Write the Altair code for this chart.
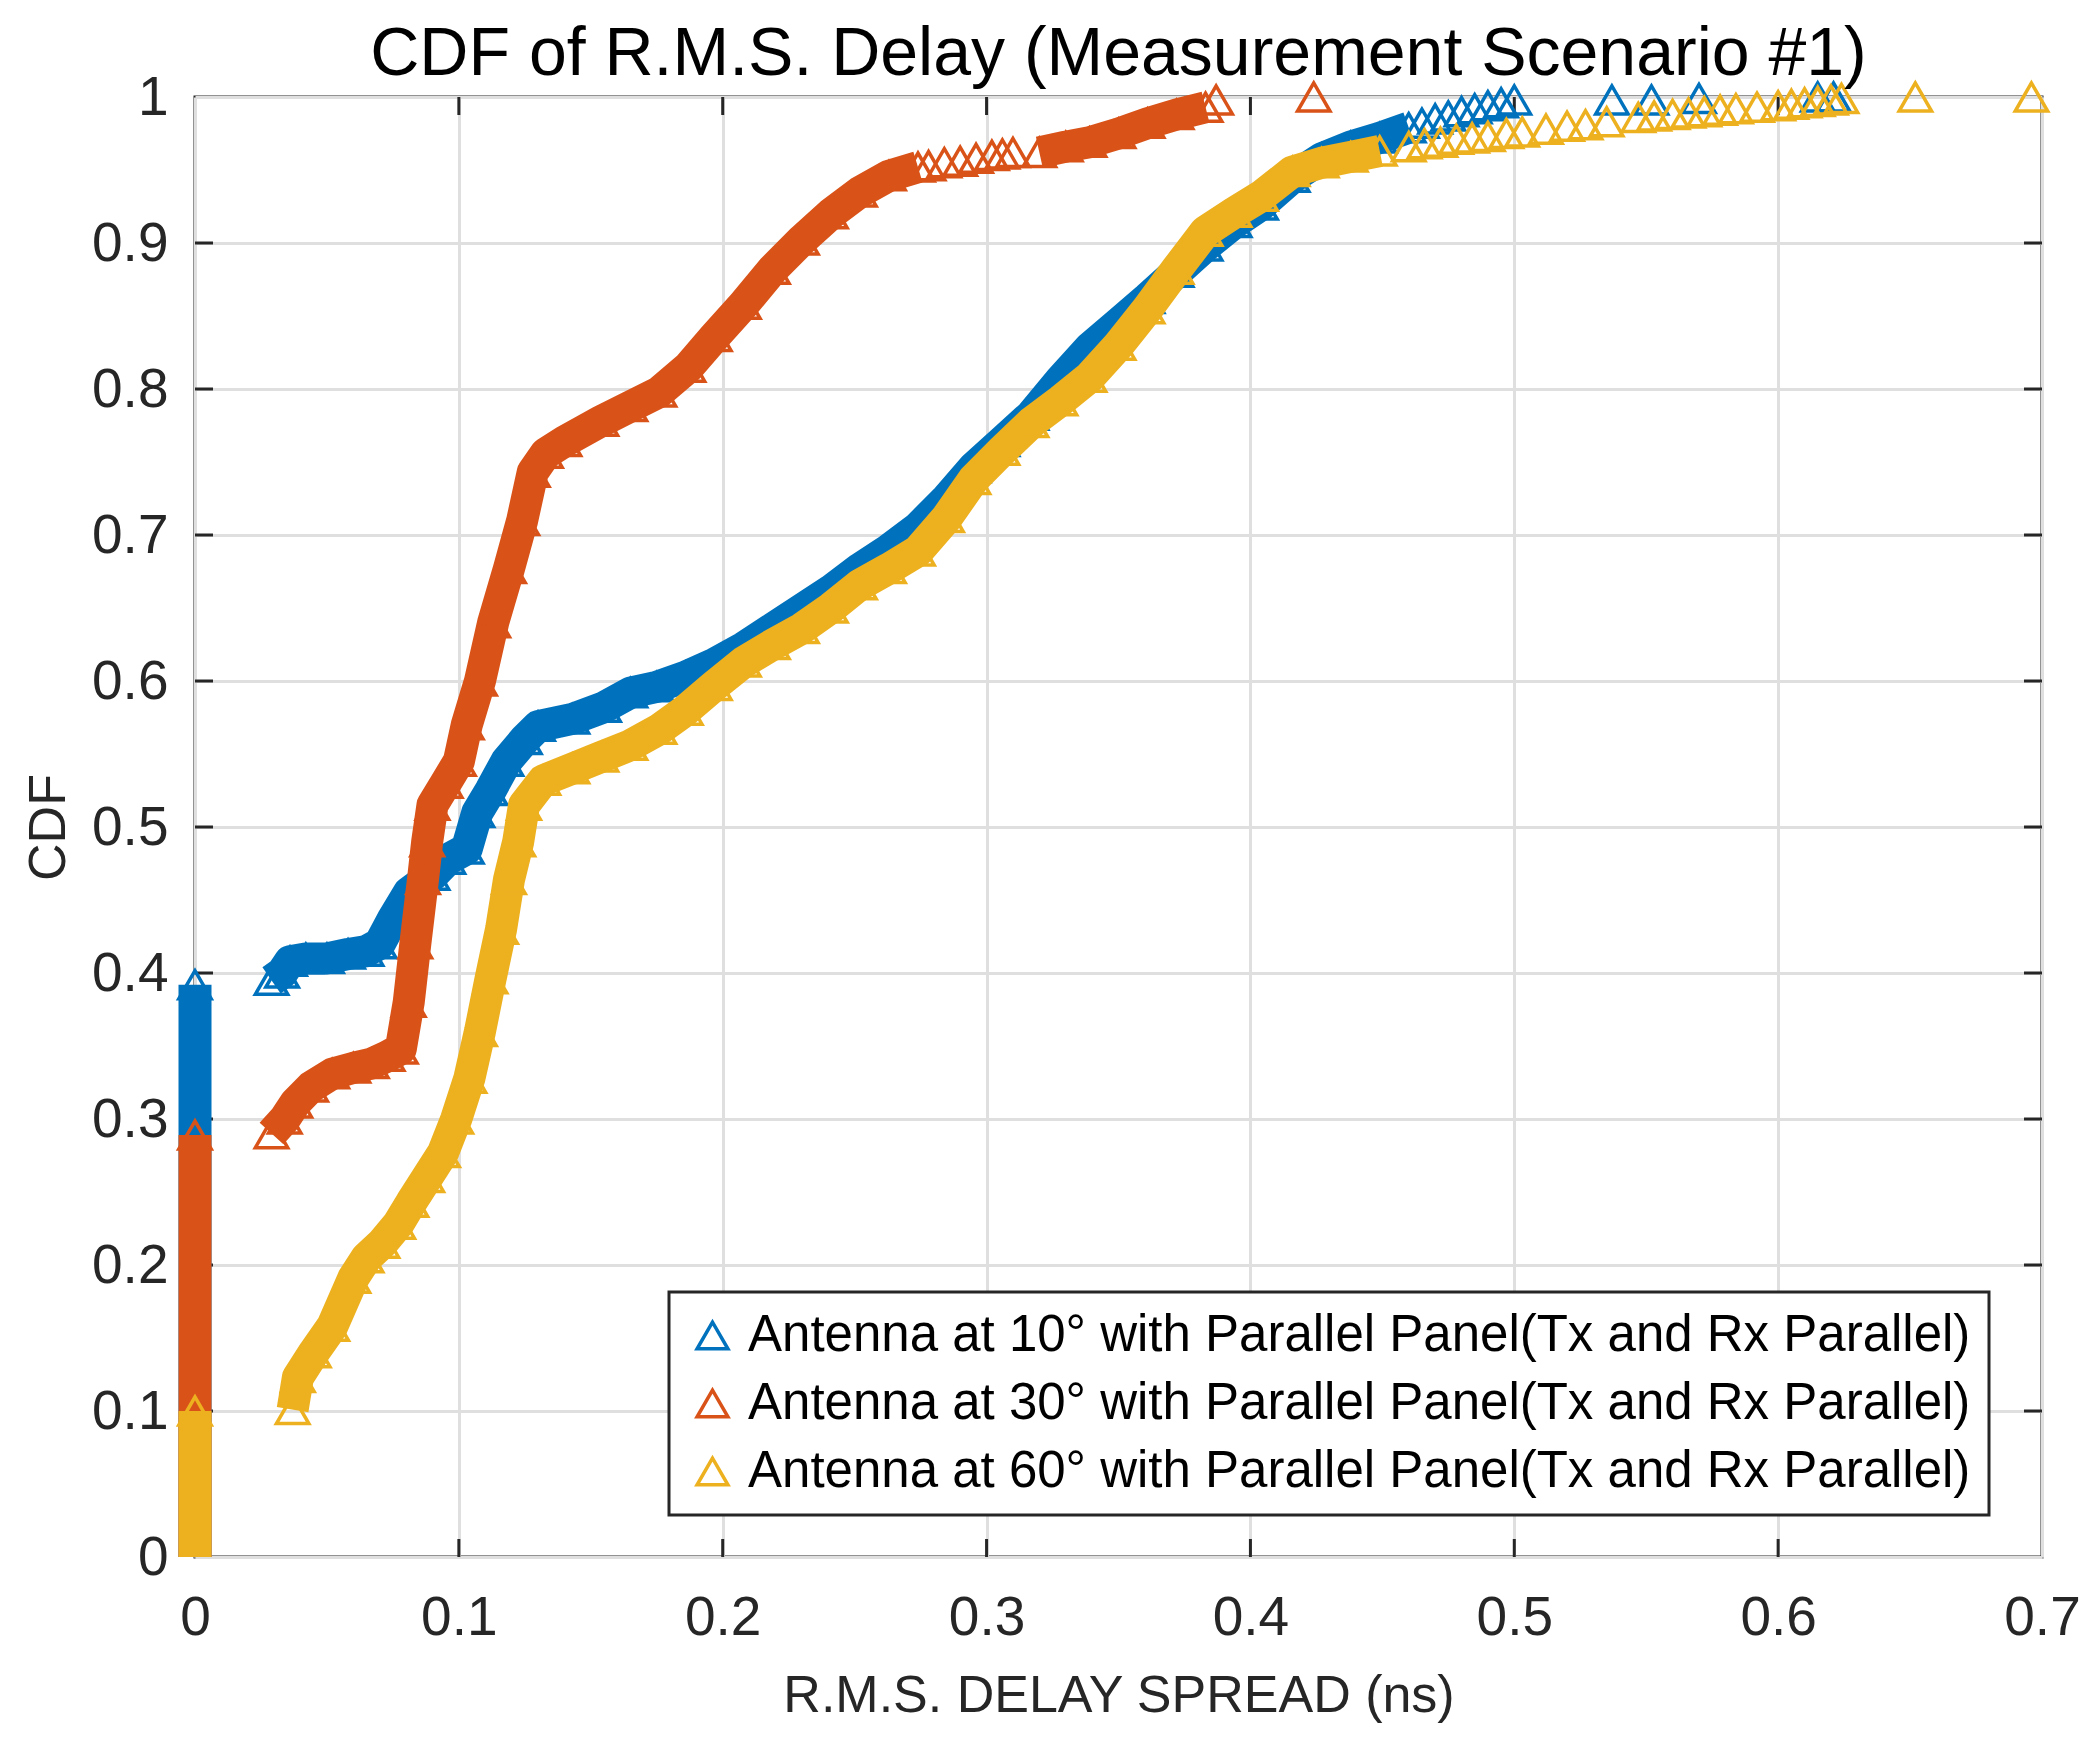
import altair as alt
import pandas as pd

SERIES = [
    "Antenna at 10° with Parallel Panel(Tx and Rx Parallel)",
    "Antenna at 30° with Parallel Panel(Tx and Rx Parallel)",
    "Antenna at 60° with Parallel Panel(Tx and Rx Parallel)",
]
COLORS = ["#0072BD", "#D95319", "#EDB120"]

# fraction of zero-delay samples (stack at x = 0)
zero_top = [0.392, 0.289, 0.100]

# ---- 10 deg (blue): dense part of the curve
blue_x = [0.029, 0.033, 0.036, 0.042, 0.05, 0.058, 0.065, 0.07, 0.075, 0.081, 0.09, 0.096,
          0.103, 0.107, 0.112, 0.118, 0.125, 0.13, 0.143, 0.155, 0.165, 0.175, 0.186, 0.197,
          0.208, 0.219, 0.23, 0.241, 0.252, 0.263, 0.274, 0.285, 0.295, 0.306, 0.317, 0.328,
          0.339, 0.35, 0.361, 0.372, 0.383, 0.394, 0.404, 0.416, 0.427, 0.438, 0.449, 0.46]
blue_y = [0.395, 0.40, 0.408, 0.41, 0.41, 0.413, 0.415, 0.42, 0.437, 0.455, 0.467, 0.478,
          0.485, 0.51, 0.525, 0.545, 0.56, 0.569, 0.574, 0.582, 0.592, 0.596, 0.603, 0.612,
          0.623, 0.636, 0.649, 0.662, 0.677, 0.69, 0.705, 0.725, 0.746, 0.764, 0.782, 0.806,
          0.828, 0.845, 0.862, 0.88, 0.898, 0.914, 0.926, 0.945, 0.958, 0.966, 0.972, 0.979]
# sparse tail markers
blue_tail_x = [0.465, 0.47, 0.475, 0.48, 0.485, 0.49, 0.495, 0.5, 0.537, 0.552, 0.570, 0.615, 0.621]
blue_tail_y = [0.982, 0.985, 0.987, 0.99, 0.992, 0.994, 0.996, 0.998, 0.998, 0.998, 0.999, 1.0, 1.0]

# ---- 30 deg (red)
red_x = [0.029, 0.034, 0.038, 0.044, 0.052, 0.06, 0.067, 0.073, 0.078, 0.081, 0.0835, 0.0864,
         0.088, 0.090, 0.095, 0.1, 0.103, 0.108, 0.113, 0.119, 0.124, 0.128, 0.133, 0.14,
         0.154, 0.165, 0.176, 0.187, 0.197, 0.208, 0.219, 0.23, 0.241, 0.252, 0.263, 0.274]
red_y = [0.29, 0.30, 0.311, 0.322, 0.331, 0.335, 0.338, 0.343, 0.348, 0.38, 0.42, 0.464,
         0.49, 0.515, 0.53, 0.545, 0.57, 0.60, 0.64, 0.677, 0.71, 0.743, 0.756, 0.764,
         0.778, 0.788, 0.798, 0.815, 0.836, 0.858, 0.882, 0.902, 0.92, 0.935, 0.946, 0.952]
red_x2 = [0.32, 0.33, 0.339, 0.35, 0.361, 0.372, 0.383]
red_y2 = [0.962, 0.966, 0.969, 0.975, 0.982, 0.988, 0.993]
red_tail_x = [0.278, 0.284, 0.29, 0.296, 0.302, 0.306, 0.31, 0.387, 0.424]
red_tail_y = [0.953, 0.955, 0.956, 0.958, 0.96, 0.961, 0.962, 0.998, 1.0]

# ---- 60 deg (yellow)
yel_x = [0.037, 0.039, 0.045, 0.052, 0.06, 0.065, 0.071, 0.077, 0.082, 0.088, 0.094, 0.099,
         0.104, 0.108, 0.112, 0.116, 0.119, 0.1225, 0.1247, 0.132, 0.143, 0.154, 0.165, 0.176,
         0.186, 0.197, 0.208, 0.219, 0.23, 0.241, 0.252, 0.263, 0.274, 0.285, 0.295, 0.306,
         0.317, 0.328, 0.339, 0.35, 0.361, 0.372, 0.383, 0.394, 0.404, 0.416, 0.427, 0.438, 0.449]
yel_y = [0.101, 0.123, 0.14, 0.158, 0.191, 0.205, 0.215, 0.228, 0.243, 0.26, 0.277, 0.30,
         0.328, 0.36, 0.396, 0.43, 0.464, 0.49, 0.515, 0.532, 0.54, 0.548, 0.556, 0.567,
         0.58, 0.597, 0.613, 0.625, 0.636, 0.65, 0.666, 0.677, 0.689, 0.712, 0.738, 0.758,
         0.777, 0.792, 0.808, 0.83, 0.855, 0.882, 0.908, 0.921, 0.932, 0.949, 0.955, 0.959, 0.963]
yel_tail_x = [0.46, 0.466, 0.472, 0.478, 0.484, 0.49, 0.497, 0.503, 0.512, 0.52, 0.527, 0.535,
              0.547, 0.553, 0.56, 0.566, 0.572, 0.578, 0.584, 0.592, 0.6, 0.605, 0.61, 0.615,
              0.62, 0.624, 0.652, 0.696]
yel_tail_y = [0.966, 0.968, 0.969, 0.971, 0.972, 0.973, 0.975, 0.976, 0.978, 0.98, 0.981, 0.983,
              0.986, 0.987, 0.988, 0.989, 0.99, 0.991, 0.992, 0.993, 0.994, 0.995, 0.996, 0.997,
              0.998, 0.999, 1.0, 1.0]

x_ticks = [0, 0.1, 0.2, 0.3, 0.4, 0.5, 0.6, 0.7]
y_ticks = [0, 0.1, 0.2, 0.3, 0.4, 0.5, 0.6, 0.7, 0.8, 0.9, 1]
x_inner = [0.1, 0.2, 0.3, 0.4, 0.5, 0.6]
y_inner = [0.1, 0.2, 0.3, 0.4, 0.5, 0.6, 0.7, 0.8, 0.9]

W, H = 1847, 1460
FONT = "Liberation Sans"
AX = "#262626"


def frame(xs, ys, series):
    return pd.DataFrame({"x": xs, "y": ys, "series": series, "i": list(range(len(xs)))})


X = alt.X("x:Q", scale=alt.Scale(domain=[0, 0.7], nice=False, zero=False),
          axis=alt.Axis(values=x_ticks,
                        labelExpr="datum.value == 0 ? '0' : format(datum.value, '.1f')",
                        title="R.M.S. DELAY SPREAD (ns)"))
Y = alt.Y("y:Q", scale=alt.Scale(domain=[0, 1], nice=False, zero=False),
          axis=alt.Axis(values=y_ticks,
                        labelExpr="datum.value == 0 ? '0' : datum.value == 1 ? '1' : format(datum.value, '.1f')",
                        title="CDF"))

COLOR = alt.Color("series:N", scale=alt.Scale(domain=SERIES, range=COLORS),
                  legend=alt.Legend(title=None, orient="none", legendX=474, legendY=1195,
                                    symbolType="triangle-up", symbolSize=950,
                                    symbolStrokeWidth=3.5, symbolFillColor="transparent",
                                    labelFontSize=51, labelFont=FONT, labelColor="#000000",
                                    labelLimit=3000,
                                    padding=18, rowPadding=16, labelOffset=10,
                                    strokeColor=AX, fillColor="white"))

series_data = [
    ([blue_x], [blue_y], blue_tail_x, blue_tail_y),
    ([red_x, red_x2], [red_y, red_y2], red_tail_x, red_tail_y),
    ([yel_x], [yel_y], yel_tail_x, yel_tail_y),
]

layers = []
for k, (segs_x, segs_y, tx, ty) in enumerate(series_data):
    s = SERIES[k]
    c = COLORS[k]
    col_df = frame([0, 0], [0, zero_top[k]], s)
    layers.append(alt.Chart(col_df).mark_line(color=c, strokeWidth=33, strokeCap="butt")
                  .encode(x=X, y=Y, order="i:Q"))
    mx, my = [0], [zero_top[k]]
    for sx, sy in zip(segs_x, segs_y):
        layers.append(alt.Chart(frame(sx, sy, s))
                      .mark_line(color=c, strokeWidth=32, strokeCap="butt", strokeJoin="round")
                      .encode(x=X, y=Y, order="i:Q"))
        mx += sx
        my += sy
    mx += tx
    my += ty
    layers.append(alt.Chart(frame(mx, my, s))
                  .mark_point(shape="triangle-up", filled=False, size=1050, strokeWidth=3.5, opacity=1)
                  .encode(x=X, y=Y, color=COLOR))

xt = pd.DataFrame({"x": x_inner})
yt = pd.DataFrame({"y": y_inner})
tick_layers = [
    alt.Chart(xt).mark_rule(color=AX, strokeWidth=3).encode(x=X, y=alt.value(0), y2=alt.value(18)),
    alt.Chart(xt).mark_rule(color=AX, strokeWidth=3).encode(x=X, y=alt.value(H - 18), y2=alt.value(H)),
    alt.Chart(yt).mark_rule(color=AX, strokeWidth=3).encode(y=Y, x=alt.value(0), x2=alt.value(18)),
    alt.Chart(yt).mark_rule(color=AX, strokeWidth=3).encode(y=Y, x=alt.value(W - 18), x2=alt.value(W)),
]

chart = alt.layer(*(tick_layers + layers)).properties(
    width=W, height=H,
    title=alt.TitleParams(text="CDF of R.M.S. Delay (Measurement Scenario #1)", fontSize=68,
                          font=FONT, fontWeight="normal", color="#000000", offset=13, dy=32,
                          anchor="middle"),
    autosize=alt.AutoSizeParams(type="none"),
    padding={"left": 187, "top": 89, "right": 47, "bottom": 176},
).configure_view(
    stroke=AX, strokeWidth=3
).configure_axis(
    grid=True, gridColor="#dfdfdf", gridWidth=3, ticks=False, domain=False,
    labelFont=FONT, labelFontSize=55, labelColor=AX, labelFlush=False, labelOverlap=False,
    titleFont=FONT, titleFontSize=52, titleFontWeight="normal", titleColor=AX,
).configure_axisX(
    labelPadding=34, titlePadding=25
).configure_axisY(
    labelPadding=27, titlePadding=16
).configure_legend(
    strokeWidth=3
)

chart.save("out.html", embed_options={"renderer": "svg", "actions": False})
